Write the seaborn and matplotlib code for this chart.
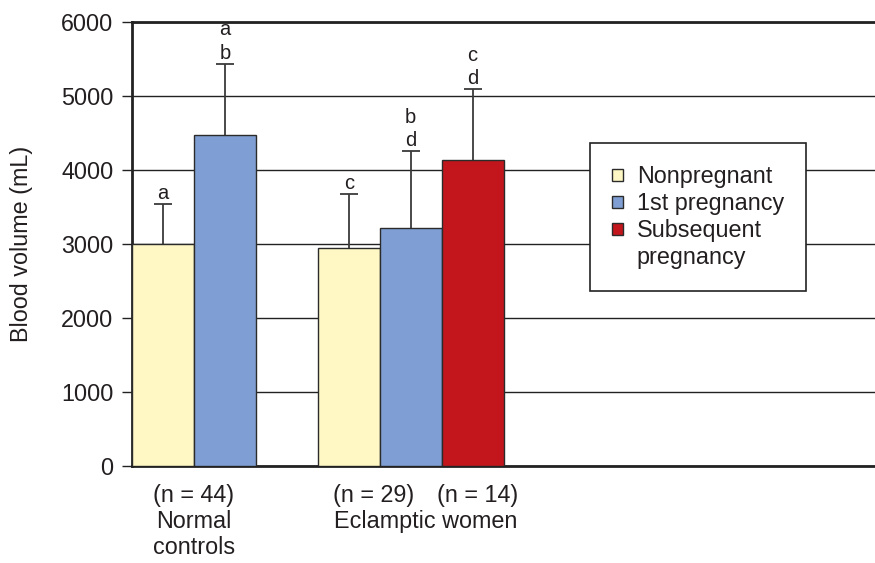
import matplotlib
matplotlib.use('Agg')
import matplotlib.pyplot as plt
import seaborn as sns
import pandas as pd
from matplotlib.patches import Patch

# data
groups = ['Normal controls', 'Eclamptic women']
group_labels = ['Normal\ncontrols', 'Eclamptic women']
conditions = ['Nonpregnant', '1st pregnancy', 'Subsequent pregnancy']
legend_labels = ['Nonpregnant', '1st pregnancy', 'Subsequent', 'pregnancy']
colors = ['#FFF8C4', '#7F9FD4', '#C3161C']

# rows ordered by condition, then group (same order as the drawn bars)
bar_group = ['Normal controls', 'Eclamptic women', 'Normal controls', 'Eclamptic women', 'Eclamptic women']
bar_condition = ['Nonpregnant', 'Nonpregnant', '1st pregnancy', '1st pregnancy', 'Subsequent pregnancy']
means = [3000, 2940, 4475, 3220, 4130]
sds = [540, 735, 960, 1035, 960]
letters = ['a', 'c', 'a\nb', 'b\nd', 'c\nd']

n_labels = ['(n = 44)', '(n = 29)', '(n = 14)']
yticks = [0, 1000, 2000, 3000, 4000, 5000, 6000]

df = pd.DataFrame({'group': bar_group, 'condition': bar_condition, 'volume': means})

sns.set_style('white')
plt.rcParams['font.family'] = ['Liberation Sans', 'DejaVu Sans']
text_color = '#231F20'
fs = 16.8

fig = plt.figure(figsize=(8.75, 5.63), dpi=100)
ax = fig.add_axes([132 / 875, 1 - 466 / 563, 1 - 132 / 875, (466 - 21.7) / 563])

sns.barplot(data=df, x='group', y='volume', hue='condition', order=groups,
            hue_order=conditions, palette=colors, saturation=1, width=1.0,
            errorbar=None, edgecolor='#2b2b2b', linewidth=1.0, legend=False,
            ax=ax, zorder=3)

bars = [p for p in ax.patches]
xs = [p.get_x() + p.get_width() / 2 for p in bars]
hs = [p.get_height() for p in bars]
tops = [h + sd for h, sd in zip(hs, sds)]

# upper-only error bars: stem plus a cap at the top
ax.errorbar(xs, hs, yerr=[[0] * len(sds), sds], fmt='none', ecolor='#3a3a3a',
            elinewidth=1.3, capsize=0, zorder=2)
ax.plot(xs, tops, ls='none', marker='_', markersize=13, mew=1.3, color='#3a3a3a', zorder=2)

for x, top, lab in zip(xs, tops, letters):
    ax.annotate(lab, xy=(x, top), xytext=(0, 0.5), textcoords='offset points',
                ha='center', va='bottom', fontsize=14.5, color=text_color,
                linespacing=1.3)

ax.set_xlim(-0.5, 3.5)
ax.set_ylim(0, 6000)
ax.set_yticks(yticks)
ax.set_yticklabels([str(v) for v in yticks], fontsize=fs, color=text_color)
ax.set_xticks([])
ax.set_xlabel('')
ax.set_ylabel('Blood volume (mL)', fontsize=fs, color=text_color)
ax.yaxis.set_label_coords(-110 / 743, 0.5)
ax.yaxis.label.set_va('center')

ax.tick_params(axis='y', direction='out', length=7.5, width=1.0, color='#222222',
               pad=6, left=True)
ax.grid(axis='y', color='#222222', linewidth=1.0, zorder=0)
ax.set_axisbelow(True)
for side in ['left', 'bottom', 'top']:
    ax.spines[side].set_linewidth(2.0)
    ax.spines[side].set_color('#222222')
ax.spines['right'].set_visible(False)

# n labels under the bars and group names
norm_x = (xs[0] + xs[2]) / 2
ecl_x = (xs[1] + xs[3]) / 2
red_x = xs[4]
for x, lab, dx in zip([norm_x, ecl_x, red_x], n_labels, [0, -4, 3.5]):
    ax.annotate(lab, xy=(x, 0), xytext=(dx, -21.5), textcoords='offset points',
                ha='center', va='center', fontsize=fs, color=text_color,
                annotation_clip=False)
for x, lab in zip([norm_x, (ecl_x + red_x) / 2], group_labels):
    ax.annotate(lab, xy=(x, 0), xytext=(0, -32), textcoords='offset points',
                ha='center', va='top', fontsize=fs, color=text_color,
                linespacing=1.15, annotation_clip=False)

handles = [Patch(facecolor=c, edgecolor='#2b2b2b', linewidth=1.0) for c in colors]
handles.append(Patch(facecolor='none', edgecolor='none'))
leg = ax.legend(handles, legend_labels, loc='upper left',
                bbox_to_anchor=(590 / 875, 1 - 143 / 563), bbox_transform=fig.transFigure,
                fontsize=fs, frameon=True, fancybox=False, handlelength=0.45,
                handleheight=0.45, handletextpad=0.6, labelspacing=0.17,
                borderpad=0.95, borderaxespad=0)
leg.get_frame().set_edgecolor('#222222')
leg.get_frame().set_linewidth(1.2)
leg.get_frame().set_alpha(1)
for t in leg.get_texts():
    t.set_color(text_color)

fig.savefig('out.png', dpi=100)
